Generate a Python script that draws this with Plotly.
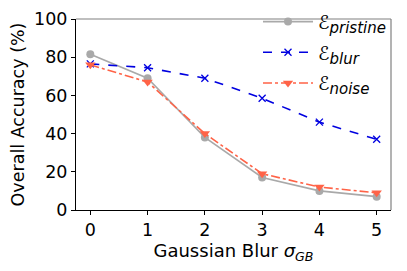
import plotly.graph_objects as go

sigma = [0, 1, 2, 3, 4, 5]
acc_pristine = [81.5, 69.0, 38.0, 17.0, 10.0, 7.0]
acc_blur = [76.5, 74.5, 69.0, 58.5, 46.0, 37.0]
acc_noise = [76.0, 67.0, 40.0, 19.0, 12.0, 9.0]
x_ticks = [0, 1, 2, 3, 4, 5]
y_ticks = [0, 20, 40, 60, 80, 100]

FONT = "DejaVu Sans"


def leg(sub):
    return "ℰ<sub><span style=\"font-size:15px\"><i>" + sub + "</i></span></sub>"


fig = go.Figure()
fig.add_trace(go.Scatter(
    x=sigma, y=acc_pristine, mode="lines+markers",
    name=leg("pristine"), legendgroup="a",
    line=dict(color="#A9A9A9", width=1.6, dash="solid"),
    marker=dict(symbol="circle", size=8, color="#A9A9A9"),
))
fig.add_trace(go.Scatter(
    x=sigma, y=acc_blur, mode="lines+markers",
    name=leg("blur"), legendgroup="b",
    line=dict(color="#0000E0", width=1.6, dash="dash"),
    marker=dict(symbol="x-thin", size=7, color="#0000E0", line=dict(color="#0000E0", width=1.3)),
))
fig.add_trace(go.Scatter(
    x=sigma, y=acc_noise, mode="lines+markers",
    name=leg("noise"), legendgroup="c",
    line=dict(color="#FF6347", width=1.6, dash="dashdot"),
    marker=dict(symbol="triangle-down", size=9, color="#FF6347"),
))

# the page adds an 8px body margin, so the figure is sized to the remaining window
fig.update_layout(
    width=399, height=263,
    margin=dict(l=68, r=16, t=11, b=61, autoexpand=False),
    paper_bgcolor="white", plot_bgcolor="white",
    font=dict(family=FONT, size=17.5, color="black"),
    showlegend=True,
    legend=dict(
        x=1.0, y=1.085, xanchor="right", yanchor="top",
        bgcolor="rgba(0,0,0,0)", borderwidth=0,
        font=dict(family=FONT, size=19),
        tracegroupgap=3, itemwidth=50,
    ),
    xaxis=dict(
        range=[-0.25, 5.25], tickvals=x_ticks, ticktext=[str(v) for v in x_ticks],
        showgrid=False, zeroline=False, showline=True, linecolor="black", linewidth=1,
        ticks="outside", ticklen=4, tickcolor="black", automargin=False,
        title=dict(text="Gaussian Blur <i>σ<sub>GB</sub></i>", standoff=3, font=dict(size=18)),
        tickfont=dict(size=17.5),
    ),
    yaxis=dict(
        range=[0, 100], tickvals=y_ticks, ticktext=[str(v) for v in y_ticks],
        showgrid=False, zeroline=False, showline=True, linecolor="black", linewidth=1,
        ticks="outside", ticklen=4, tickcolor="black", automargin=False,
        title=dict(text="Overall Accuracy (%)", standoff=8, font=dict(size=17.5)),
        tickfont=dict(size=17.5),
    ),
    shapes=[
        dict(type="line", xref="paper", yref="paper", x0=0, x1=1, y0=1, y1=1,
             line=dict(color="#808080", width=1.2)),
        dict(type="line", xref="paper", yref="paper", x0=1, x1=1, y0=0, y1=1,
             line=dict(color="#808080", width=1.2)),
    ],
)

fig.write_html("out.html")
